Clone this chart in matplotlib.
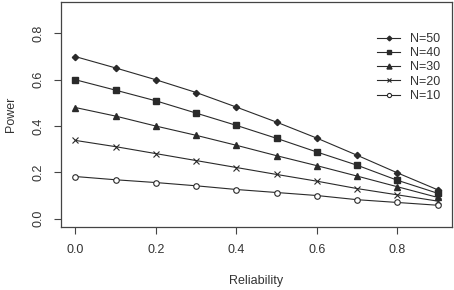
import numpy as np
import matplotlib
matplotlib.use("Agg")
import matplotlib.pyplot as plt

reliability = [0.0, 0.1, 0.2, 0.3, 0.4, 0.5, 0.6, 0.7, 0.8, 0.9]
power_n50 = [0.70, 0.651, 0.600, 0.545, 0.482, 0.417, 0.348, 0.274, 0.198, 0.125]
power_n40 = [0.60, 0.555, 0.509, 0.456, 0.403, 0.347, 0.288, 0.231, 0.166, 0.110]
power_n30 = [0.48, 0.443, 0.400, 0.360, 0.317, 0.272, 0.229, 0.184, 0.138, 0.092]
power_n20 = [0.338, 0.311, 0.281, 0.251, 0.221, 0.191, 0.162, 0.130, 0.103, 0.076]
power_n10 = [0.182, 0.168, 0.156, 0.142, 0.126, 0.113, 0.100, 0.082, 0.070, 0.058]
labels = ["N=50", "N=40", "N=30", "N=20", "N=10"]

plt.rcParams["font.family"] = ["Liberation Sans", "DejaVu Sans"]
ink = "#2a2a2a"
txt = "#333333"

fig = plt.figure(figsize=(4.54, 2.90), dpi=100)
ax = fig.add_axes([61 / 454, 1 - 227 / 290, (452 - 61) / 454, (227 - 2) / 290])

series = [power_n50, power_n40, power_n30, power_n20, power_n10]
styles = [
    dict(marker="D", ms=3.2, mfc=ink),
    dict(marker="s", ms=4.4, mfc=ink),
    dict(marker="^", ms=4.8, mfc=ink),
    dict(marker="x", ms=4.8, mew=0.8),
    dict(marker="o", ms=4.0, mfc="white", mew=0.8),
]
for vals, lab, st in zip(series, labels, styles):
    ax.plot(reliability, vals, color=ink, lw=0.8, mec=ink, label=lab, **st)

ax.set_xlim(-0.036, 0.936)
ax.set_ylim(-0.036, 0.936)
ax.set_xticks([0.0, 0.2, 0.4, 0.6, 0.8])
ax.set_yticks([0.0, 0.2, 0.4, 0.6, 0.8])
ax.set_xticklabels(["0.0", "0.2", "0.4", "0.6", "0.8"])
ax.set_yticklabels(["0.0", "0.2", "0.4", "0.6", "0.8"], rotation=90, va="center")
ax.tick_params(direction="out", length=5, width=0.8, colors="#444444",
               labelcolor=txt, labelsize=9, pad=7)
for sp in ax.spines.values():
    sp.set_color("#444444")
    sp.set_linewidth(0.9)

ax.set_xlabel("Reliability", fontsize=9, color=txt, labelpad=14)
ax.set_ylabel("Power", fontsize=9, color=txt, labelpad=11)

ax.legend(loc="upper left", bbox_to_anchor=(377 / 454, 1 - 33 / 290),
          bbox_transform=fig.transFigure, frameon=False, fontsize=9,
          handlelength=1.85, handletextpad=0.8, labelspacing=0.18,
          borderpad=0, borderaxespad=0, markerscale=0.75, labelcolor=txt)

fig.savefig("out.png", dpi=100)
